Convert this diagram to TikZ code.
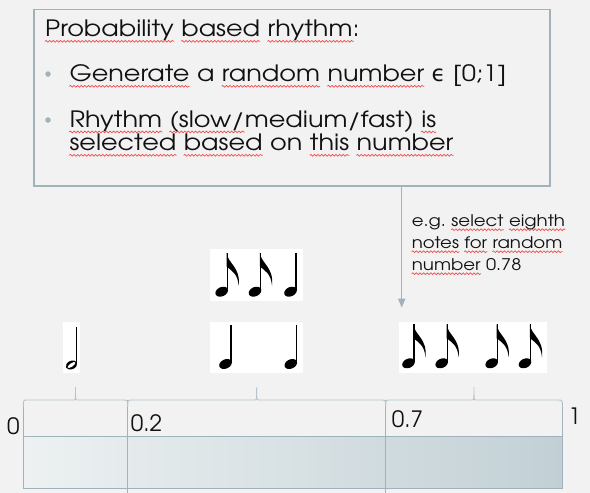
\documentclass[tikz,border=0pt]{standalone}
\usepackage{fontspec}
\setmainfont{TeX Gyre Adventor}
\newfontfamily\cg[FakeStretch=1.135]{TeX Gyre Adventor}
\newfontfamily\djv{DejaVu Sans}
\usetikzlibrary{arrows.meta,decorations.pathmorphing}
\definecolor{bgc}{HTML}{F2F2F2}
\definecolor{linec}{HTML}{A0B3BB}
\definecolor{bracec}{HTML}{B6C5CB}
\definecolor{barL}{HTML}{EDF1F2}
\definecolor{barR}{HTML}{C2D0D5}
\definecolor{wavered}{HTML}{F04C4C}
\definecolor{txt}{HTML}{111111}
\newcommand\bigf{\cg\fontsize{22.5}{27}\selectfont}
\newcommand\smallf{\cg\fontsize{16}{19}\selectfont}
\newcommand\numf{\fontsize{22.5}{27}\selectfont}
\newlength\spw
\newlength\sps
\AtBeginDocument{\settowidth\spw{\bigf\ }\settowidth\sps{\smallf\ }}
\tikzset{
  boxst/.style={draw=linec, line width=1.5pt, fill=bgc, inner sep=0pt},
  wb/.style={anchor=base west, inner sep=0pt, font=\bigf, text=txt},
  ws/.style={anchor=base west, inner sep=0pt, font=\smallf, text=txt},
  numtxt/.style={inner sep=0pt, font=\numf, text=txt},
  bulletst/.style={circle, fill=linec, inner sep=0pt, minimum size=5.5pt},
  arr/.style={draw=linec, line width=1.5pt, -{Triangle[width=7pt,length=9pt]}},
  imgbg/.style={fill=white, inner sep=0pt},
  brc/.style={draw=bracec, line width=0.9pt},
  divl/.style={draw=linec, line width=0.9pt},
  wave/.style={draw=wavered, line width=0.7pt, decorate,
    decoration={snake, amplitude=0.9pt, segment length=3.6pt}},
  quartern/.pic={
    \fill[rotate=25] (0,0) ellipse[x radius=6.6pt, y radius=4.6pt];
    \draw[line width=1.5pt] (5.7,-1) -- (5.7,-39);
  },
  eighthn/.pic={
    \fill[rotate=25] (0,0) ellipse[x radius=6.6pt, y radius=4.6pt];
    \draw[line width=1.5pt] (5.7,-1) -- (5.7,-39);
    \fill (4.95,-39) .. controls (6,-28) and (19,-25) .. (17,-6)
          .. controls (16,-18) and (10,-21) .. (5,-25) -- cycle;
  },
  halfn/.pic={
    \fill[rotate=25] (0,0) ellipse[x radius=6pt, y radius=4.2pt];
    \fill[white, rotate=35] (0,0) ellipse[x radius=4.6pt, y radius=1.7pt];
    \draw[line width=1.3pt] (5.2,-1) -- (5.2,-38);
  }
}
% wavy underline under a word node
\newcommand\wv[2][0pt]{\draw[wave] ([yshift=-4.6pt]#2.base west) -- ([yshift=-4.6pt,xshift=-#1]#2.base east);}
\newcommand\wvs[1]{\draw[wave] ([yshift=-3pt]#1.base west) -- ([yshift=-3pt]#1.base east);}
\begin{document}
\begin{tikzpicture}[x=1pt,y=-1pt]
\useasboundingbox (0,0) rectangle (590,493);
\fill[bgc] (0,0) rectangle (590,493);

% callout box
\node[boxst, minimum width=516pt, minimum height=176.7pt] (box) at (292,97.65) {};
\node[wb] (p1) at (45,36.7) {Probability};
\node[wb] (p2) at ([xshift=\spw]p1.base east) {based};
\node[wb] (p3) at ([xshift=\spw]p2.base east) {rhythm:};
\wv{p1}\wv{p2}\wv[6pt]{p3}

\node[bulletst] (b1) at (48,74) {};
\node[wb] (g1) at (69.3,81.7) {Generate};
\node[wb] (g2) at ([xshift=\spw]g1.base east) {a};
\node[wb] (g3) at ([xshift=\spw]g2.base east) {random};
\node[wb] (g4) at ([xshift=\spw]g3.base east) {number};
\node[wb, font=\bigf\djv] (g5) at ([xshift=\spw]g4.base east) {ϵ};
\node[wb] (g6) at ([xshift=\spw]g5.base east) {[0;1]};
\wv{g1}\wv{g3}\wv{g4}

\node[bulletst] (b2) at (48,120) {};
\node[wb] (r1) at (69.3,127.3) {Rhythm};
\node[wb] (r2) at ([xshift=\spw]r1.base east) {(slow/};
\node[wb] (r3) at (r2.base east) {medium/fast)};
\node[wb] (r4) at ([xshift=\spw]r3.base east) {is};
\wv{r1}\wv{r2}\wv{r4}

\node[wb] (q1) at (69.3,150.7) {selected};
\node[wb] (q2) at ([xshift=\spw]q1.base east) {based};
\node[wb] (q3) at ([xshift=\spw]q2.base east) {on};
\node[wb] (q4) at ([xshift=\spw]q3.base east) {this};
\node[wb] (q5) at ([xshift=\spw]q4.base east) {number};
\wv{q1}\wv{q2}\wv{q4}\wv{q5}

% pointer
\coordinate (tip) at (401.7,307.7);
\draw[arr] (box.south -| tip) -- (tip);
\node[ws] (e1) at (411.7,226.7) {e.g.};
\node[ws] (e2) at ([xshift=\sps]e1.base east) {select};
\node[ws] (e3) at ([xshift=\sps]e2.base east) {eighth};
\node[ws] (n1) at (411.7,248.7) {notes};
\node[ws] (n2) at ([xshift=\sps]n1.base east) {for};
\node[ws] (n3) at ([xshift=\sps]n2.base east) {random};
\node[ws] (m1) at (411.7,270.7) {number};
\node[ws] (m2) at ([xshift=\sps]m1.base east) {0.78};
\wvs{e2}\wvs{e3}\wvs{n1}\wvs{n2}\wvs{n3}\wvs{m1}

% note images
\node[imgbg, minimum width=16.5pt, minimum height=51.6pt] (img1) at (71.5,347.5) {};
\pic at (71.5,365) {halfn};
\node[imgbg, minimum width=92.7pt, minimum height=51.7pt] (img2) at (256.35,274.85) {};
\pic at (221.7,291.7) {eighthn};
\pic at (255,291.7) {eighthn};
\pic at (290.5,291.7) {quartern};
\node[imgbg, minimum width=92.7pt, minimum height=51.6pt] (img3) at (256.35,347.5) {};
\pic at (225.5,364) {quartern};
\pic at (290.8,364) {quartern};
\node[imgbg, minimum width=148.3pt, minimum height=51.6pt] (img4) at (473.15,347.5) {};
\pic at (408.5,363.3) {eighthn};
\pic at (441.7,363.3) {eighthn};
\pic at (491.7,363.3) {eighthn};
\pic at (525,363.3) {eighthn};

% bar
\shade[left color=barL, right color=barR] (23.3,436.7) rectangle (562.3,488.3);
\draw[divl] (23.3,436.7) -- (562.3,436.7);
\draw[divl] (23.3,402) -- (23.3,488.3) -- (562.3,488.3) -- (562.3,402);
\draw[divl] (127.7,400) -- (127.7,493);
\draw[divl] (385.7,400) -- (385.7,493);

% braces
\draw[brc] (23.3,407) .. controls (23.3,400) .. (27.5,400) -- (73.5,400)
  .. controls (75.5,400) .. (75.5,387) .. controls (75.5,400) .. (77.5,400)
  -- (123.5,400) .. controls (127.7,400) .. (127.7,407);
\draw[brc] (127.7,407) .. controls (127.7,400) .. (131.9,400) -- (254.7,400)
  .. controls (256.7,400) .. (256.7,387) .. controls (256.7,400) .. (258.7,400)
  -- (381.5,400) .. controls (385.7,400) .. (385.7,407);
\draw[brc] (385.7,407) .. controls (385.7,400) .. (389.9,400) -- (472,400)
  .. controls (474,400) .. (474,387) .. controls (474,400) .. (476,400)
  -- (558.1,400) .. controls (562.3,400) .. (562.3,407);

% labels
\node[numtxt, anchor=base] (l0) at (13.3,434) {0};
\node[numtxt, anchor=base west] (l2) at (130.7,431.7) {0.2};
\node[numtxt, anchor=base west] (l7) at (391.7,427.7) {0.7};
\node[numtxt, anchor=base] (l1) at (574.5,424.3) {1};
\end{tikzpicture}
\end{document}
